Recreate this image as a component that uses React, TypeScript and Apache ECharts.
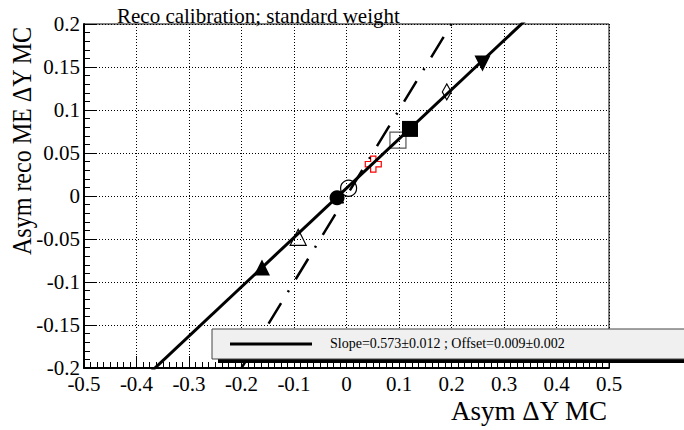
import React, { useEffect, useRef } from "react";
import * as echarts from "echarts";

// ---- data ----
const xTickLabels = ["-0.5", "-0.4", "-0.3", "-0.2", "-0.1", "0", "0.1", "0.2", "0.3", "0.4", "0.5"];
const yTickLabels = ["-0.2", "-0.15", "-0.1", "-0.05", "0", "0.05", "0.1", "0.15", "0.2"];

// calibration points (x: Asym ΔY MC, y: Asym reco ME ΔY MC)
const pointX = [-0.018, 0.004, 0.051, 0.098, 0.121, -0.092, -0.161, 0.259, 0.191];
const pointY = [-0.002, 0.009, 0.037, 0.065, 0.078, -0.048, -0.083, 0.154, 0.121];

// linear fit
const fitSlope = 0.573;
const fitSlopeErr = 0.012;
const fitOffset = 0.009;
const fitOffsetErr = 0.002;
const fitRangeX = [-0.5, 0.5];

// identity (y = x) reference line
const identityX = [-0.2, 0.2];

const titleText = "Reco calibration; standard weight";
const xAxisTitle = "Asym \u0394Y MC";
const yAxisTitle = "Asym reco ME \u0394Y MC";

// ---- marker styles (one per point) ----
const crossPath = "path://M1,0 L2,0 L2,1 L3,1 L3,2 L2,2 L2,3 L1,3 L1,2 L0,2 L0,1 L1,1 Z";
const markerStyles = [
  { symbol: "circle", size: 15, fill: "#000", stroke: "#000", rotate: 0 },
  { symbol: "circle", size: 16, fill: "none", stroke: "#000", rotate: 0 },
  { symbol: crossPath, size: 16, fill: "none", stroke: "#ff0000", rotate: 0 },
  { symbol: "rect", size: 16, fill: "none", stroke: "#555", rotate: 0 },
  { symbol: "rect", size: 16, fill: "#000", stroke: "#000", rotate: 0 },
  { symbol: "triangle", size: 16, fill: "none", stroke: "#000", rotate: 0 },
  { symbol: "triangle", size: 16, fill: "#000", stroke: "#000", rotate: 0 },
  { symbol: "triangle", size: 16, fill: "#000", stroke: "#000", rotate: 180 },
  { symbol: "diamond", size: [9, 16], fill: "none", stroke: "#000", rotate: 0 },
];

const FONT = "'Liberation Serif', 'Times New Roman', serif";

export default function App() {
  const ref = useRef<HTMLDivElement>(null);

  useEffect(() => {
    if (!ref.current) return;
    const chart = echarts.init(ref.current, undefined, { renderer: "svg" });

    const scatterData = pointX.map((x, i) => {
      const s = markerStyles[i];
      return {
        value: [x, pointY[i]],
        symbol: s.symbol,
        symbolSize: s.size,
        symbolRotate: s.rotate,
        itemStyle: {
          color: s.fill === "none" ? "rgba(0,0,0,0)" : s.fill,
          borderColor: s.stroke,
          borderWidth: s.fill === "none" ? 1.2 : 0,
          opacity: 1,
        },
      };
    });

    const fitData = fitRangeX.map((x) => [x, fitSlope * x + fitOffset]);
    const identityData = identityX.map((x) => [x, x]);

    const legendText =
      "Slope=" + fitSlope.toFixed(3) + "\u00b1" + fitSlopeErr.toFixed(3) +
      " ; Offset=" + fitOffset.toFixed(3) + "\u00b1" + fitOffsetErr.toFixed(3);

    const gridLine = { show: true, lineStyle: { color: "#000", width: 1, type: [1, 2] as any } };

    chart.setOption({
      animation: false,
      backgroundColor: "#fff",
      textStyle: { fontFamily: FONT },
      grid: {
        left: 84,
        top: 24,
        width: 525,
        height: 344,
        show: true,
        borderColor: "#000",
        borderWidth: 1,
        backgroundColor: "transparent",
      },
      xAxis: {
        type: "value",
        min: -0.5,
        max: 0.5,
        interval: 0.1,
        axisLine: { show: true, onZero: false, lineStyle: { color: "#000", width: 2 } },
        axisTick: { show: true, inside: true, length: 12, lineStyle: { color: "#000", width: 1 } },
        minorTick: { show: true, splitNumber: 8, length: 6, lineStyle: { color: "#000", width: 1 } },
        splitLine: gridLine,
        axisLabel: {
          color: "#000",
          fontSize: 21,
          fontFamily: FONT,
          margin: 5,
          formatter: (v: number) => xTickLabels[Math.round((v + 0.5) / 0.1)] ?? "",
        },
      },
      yAxis: {
        type: "value",
        min: -0.2,
        max: 0.2,
        interval: 0.05,
        axisLine: { show: true, onZero: false, lineStyle: { color: "#000", width: 2 } },
        axisTick: { show: true, inside: true, length: 12, lineStyle: { color: "#000", width: 1 } },
        minorTick: { show: true, splitNumber: 5, length: 6, lineStyle: { color: "#000", width: 1 } },
        splitLine: gridLine,
        axisLabel: {
          color: "#000",
          fontSize: 21,
          fontFamily: FONT,
          margin: 4,
          formatter: (v: number) => yTickLabels[Math.round((v + 0.2) / 0.05)] ?? "",
        },
      },
      series: [
        {
          type: "scatter",
          data: scatterData,
          z: 2,
        },
        {
          type: "line",
          data: identityData,
          showSymbol: false,
          symbol: "none",
          clip: true,
          lineStyle: { color: "#000", width: 2.5, type: [24, 13, 2, 13] as any },
          z: 3,
        },
        {
          type: "line",
          data: fitData,
          showSymbol: false,
          symbol: "none",
          clip: true,
          lineStyle: { color: "#000", width: 3 },
          z: 4,
        },
      ],
      graphic: [
        {
          type: "text",
          x: 117,
          y: 15.5,
          style: {
            text: titleText,
            font: "21px " + FONT,
            fill: "#000",
            textAlign: "left",
            textVerticalAlign: "middle",
          },
        },
        {
          type: "text",
          x: 607,
          y: 411,
          style: {
            text: xAxisTitle,
            font: "27px " + FONT,
            fill: "#000",
            textAlign: "right",
            textVerticalAlign: "middle",
          },
        },
        {
          type: "text",
          x: 22,
          y: 141,
          rotation: Math.PI / 2,
          scaleX: 0.89,
          style: {
            text: yAxisTitle,
            font: "27px " + FONT,
            fill: "#000",
            textAlign: "center",
            textVerticalAlign: "middle",
          },
        },
        {
          type: "rect",
          shape: { x: 218, y: 333, width: 500, height: 30 },
          style: { fill: "#000" },
          z: 20,
        },
        {
          type: "rect",
          shape: { x: 212, y: 329, width: 500, height: 30 },
          style: { fill: "#f0f0f0", stroke: "#444", lineWidth: 1 },
          z: 21,
        },
        {
          type: "line",
          shape: { x1: 230, y1: 344, x2: 312, y2: 344 },
          style: { stroke: "#000", lineWidth: 3 },
          z: 22,
        },
        {
          type: "text",
          x: 330,
          y: 343,
          z: 22,
          style: {
            text: legendText,
            font: "14px " + FONT,
            fill: "#000",
            textAlign: "left",
            textVerticalAlign: "middle",
          },
        },
      ],
    });

    return () => chart.dispose();
  }, []);

  return (
    <div
      ref={ref}
      style={{ position: "fixed", left: 0, top: 0, width: 684, height: 430, background: "#fff" }}
    />
  );
}
